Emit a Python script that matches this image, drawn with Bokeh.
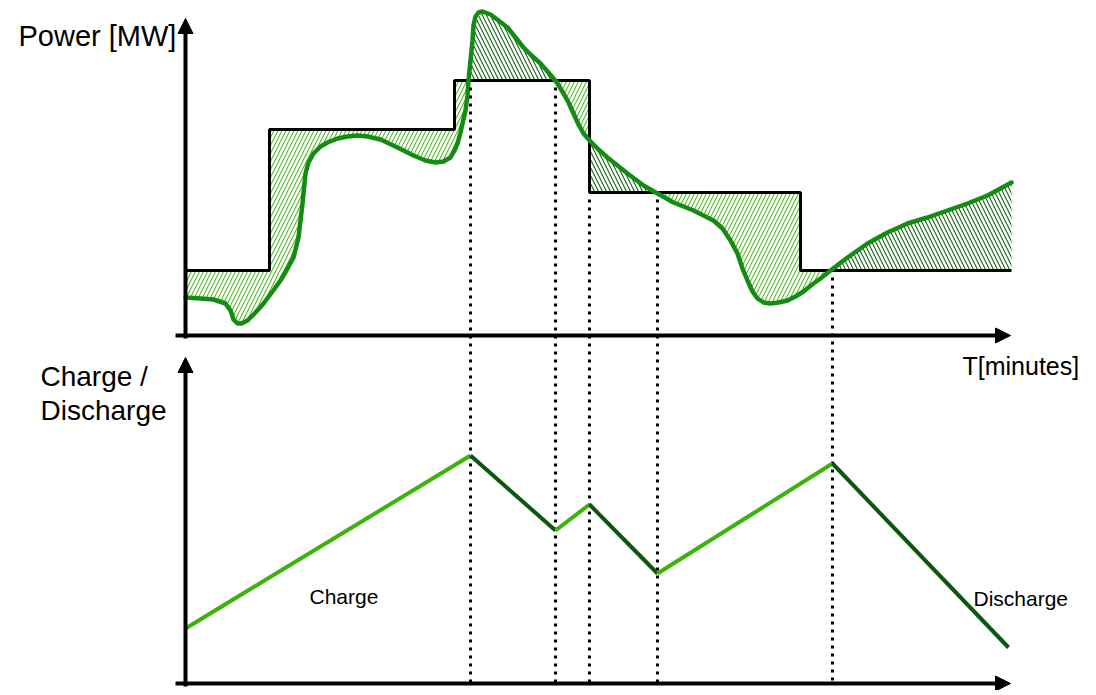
import numpy as np
from bokeh.plotting import figure
from bokeh.models import Range1d, Arrow, NormalHead
from bokeh.core.properties import value
from bokeh.embed import file_html
from bokeh.resources import INLINE

# ---------------- data ----------------
# scheduled power (step function), time in minutes, power in MW
sched_t = [0, 8.4, 26.9, 40.4, 61.5, 82.6]
sched_p = [32.5, 103, 127.5, 71.5, 32.5, 32.5]

# actual power (green curve)
actual_t = [0, 1.5, 2.8, 4.0, 4.5, 4.8, 5.2, 5.6, 6.2, 7.0, 7.8, 8.7, 9.5, 10.2, 10.8,
            11.3, 11.5, 11.7, 12.0, 12.3, 12.8, 13.5, 14.2, 15.2, 16.2, 17.2, 18.2,
            19.5, 21.2, 22.8, 24.0, 25.0, 25.8, 26.5, 26.9, 27.2, 27.5, 27.7, 28.0,
            28.2, 28.3, 28.5, 28.7, 28.8, 29.0, 29.3, 29.7, 30.5, 31.3, 32.2, 33.0,
            33.8, 34.6, 35.5, 36.2, 36.8, 37.2, 37.8, 38.3, 38.8, 39.3, 39.8, 40.5,
            41.3, 42.2, 43.2, 44.2, 45.8, 47.2, 48.8, 50.8, 52.8, 53.7, 54.5, 55.2,
            55.7, 56.2, 56.7, 57.2, 57.8, 58.5, 59.3, 60.2, 61.0, 61.8, 62.8, 63.5,
            64.5, 66.2, 68.2, 70.2, 72.2, 74.2, 76.2, 78.2, 80.2, 81.5, 82.6]
actual_p = [19, 18.5, 18, 16, 12.5, 8, 6, 6, 7.5, 11.5, 16, 22, 27.5, 33.5, 39,
            49, 57.5, 66, 81, 86.5, 91, 94.5, 96.5, 98.5, 99.5, 100, 99.5,
            98, 94, 90, 87.5, 86.5, 87, 89, 92.5, 96, 101.5, 106, 112.5,
            120, 127.5, 137.5, 147.5, 155, 159.5, 161.5, 162, 160.5, 157.5, 154, 149,
            144, 140, 136, 132, 128.5, 126, 121, 116.5, 111, 105.5, 101, 97,
            93, 89, 85, 81, 75, 71, 66.5, 62.5, 57.5, 53.5, 47.5, 41,
            33.5, 27.5, 22, 18.5, 16.5, 16, 16.5, 17.5, 19.5, 22, 26, 28.5,
            32.5, 39, 46, 51.5, 56, 59, 62.5, 66, 70, 73.5, 76.5]

# storage charge level (lower panel)
charge_t = [0, 28.5, 37.0, 40.4, 47.2, 64.7, 82.3]
charge_v = [27.5, 114, 76.5, 89.5, 55, 110, 18]

# moments where actual power crosses the schedule
event_t = [28.5, 37.0, 40.4, 47.2, 64.7]

# texts
title_power = "Power [MW]"
title_time = "T[minutes]"
title_charge = ["Charge /", "Discharge"]
label_charge = "Charge"
label_discharge = "Discharge"

# ---------------- layout constants ----------------
LOWER_BASE = -174      # vertical position of the lower panel's zero line
T_END = 82.5           # x-axis arrow tip
P_TOP = 158.5          # upper y-axis arrow tip
C_TOP = 163            # lower y-axis arrow tip

CURVE_COLOR = "#148c14"
LIGHT_HATCH = "#52bd2c"
DARK_HATCH = "#125f12"
CHARGE_COLOR = "#3cb30a"
DISCHARGE_COLOR = "#0d560d"
FONT = "Liberation Sans"

p = figure(width=1090, height=690, x_range=Range1d(-18.5, 90.5),
           y_range=Range1d(-177.5, 167.5), x_axis_type=None, y_axis_type=None,
           output_backend="svg", toolbar_location=None, min_border=0,
           outline_line_color=None, background_fill_color="white")
p.grid.visible = False


def step_at(t):
    e = np.asarray(sched_t[:-1], dtype=float)
    lv = np.asarray(sched_p[:-1], dtype=float)
    i = np.clip(np.searchsorted(e, t, side="right") - 1, 0, len(lv) - 1)
    return lv[i]


# --- hatched areas between schedule and actual power ---
ct = np.asarray(actual_t, dtype=float)
cp = np.asarray(actual_p, dtype=float)
edges = np.asarray(sched_t[1:-1], dtype=float)
grid = np.union1d(ct, np.concatenate([edges, edges - 1e-6]))
grid = grid[(grid >= ct[0]) & (grid <= ct[-1])]
c = np.interp(grid, ct, cp)
s = step_at(grid)
d = c - s
roots = []
for i in range(len(grid) - 1):
    if d[i] * d[i + 1] < 0:
        roots.append(grid[i] - d[i] * (grid[i + 1] - grid[i]) / (d[i + 1] - d[i]))
grid = np.union1d(grid, roots)
c = np.interp(grid, ct, cp)
s = step_at(grid)

p.varea(x=grid, y1=s, y2=np.minimum(c, s), fill_color=None, fill_alpha=0,
        hatch_pattern="/", hatch_color=LIGHT_HATCH, hatch_scale=8, hatch_weight=1.1)
p.varea(x=grid, y1=s, y2=np.maximum(c, s), fill_color=None, fill_alpha=0,
        hatch_pattern="\\", hatch_color=DARK_HATCH, hatch_scale=8, hatch_weight=1.1)

# --- schedule step line ---
p.step(sched_t, sched_p, mode="after", line_color="black", line_width=3)

# --- actual power curve ---
p.line(actual_t, actual_p, line_color=CURVE_COLOR, line_width=4.5,
       line_join="round", line_cap="round")

# --- dotted event lines ---
tops = [float(step_at(np.array([t]))[0]) - 3.5 for t in event_t]
p.segment(x0=event_t, y0=tops, x1=event_t, y1=[LOWER_BASE] * len(event_t),
          line_color="black", line_width=3, line_dash="3 5")

# --- charge / discharge line ---
cy = [LOWER_BASE + v for v in charge_v]
seg_colors = [CHARGE_COLOR if charge_v[i + 1] > charge_v[i] else DISCHARGE_COLOR
              for i in range(len(charge_v) - 1)]
p.segment(x0=charge_t[:-1], y0=cy[:-1], x1=charge_t[1:], y1=cy[1:],
          line_color=seg_colors, line_width=4)

# --- axes as arrows ---
def axis_arrow(x0, y0, x1, y1):
    p.add_layout(Arrow(end=NormalHead(size=15, fill_color="black", line_color="black",
                                      line_width=1),
                       x_start=x0, y_start=y0, x_end=x1, y_end=y1,
                       line_color="black", line_width=4))

axis_arrow(0, -1.5, 0, P_TOP)
axis_arrow(-1.0, 0, T_END, 0)
axis_arrow(0, LOWER_BASE - 1.5, 0, LOWER_BASE + C_TOP)
axis_arrow(-1.0, LOWER_BASE, T_END, LOWER_BASE)

# --- texts ---
big = dict(text_font=value(FONT), text_color="black", text_baseline="middle",
           text_align="left")
p.text(x=[-16.7], y=[150], text=[title_power], text_font_size=value("29px"), **big)
p.text(x=[77.7], y=[-15], text=[title_time], text_font_size=value("25px"), **big)
p.text(x=[-14.5, -14.5], y=[-20.5, -37.5], text=title_charge,
       text_font_size=value("28px"), **big)
p.text(x=[12.4, 78.8], y=[LOWER_BASE + 43.5, LOWER_BASE + 42.5],
       text=[label_charge, label_discharge], text_font_size=value("21px"), **big)

open("out.html", "w").write(file_html(p, INLINE))
